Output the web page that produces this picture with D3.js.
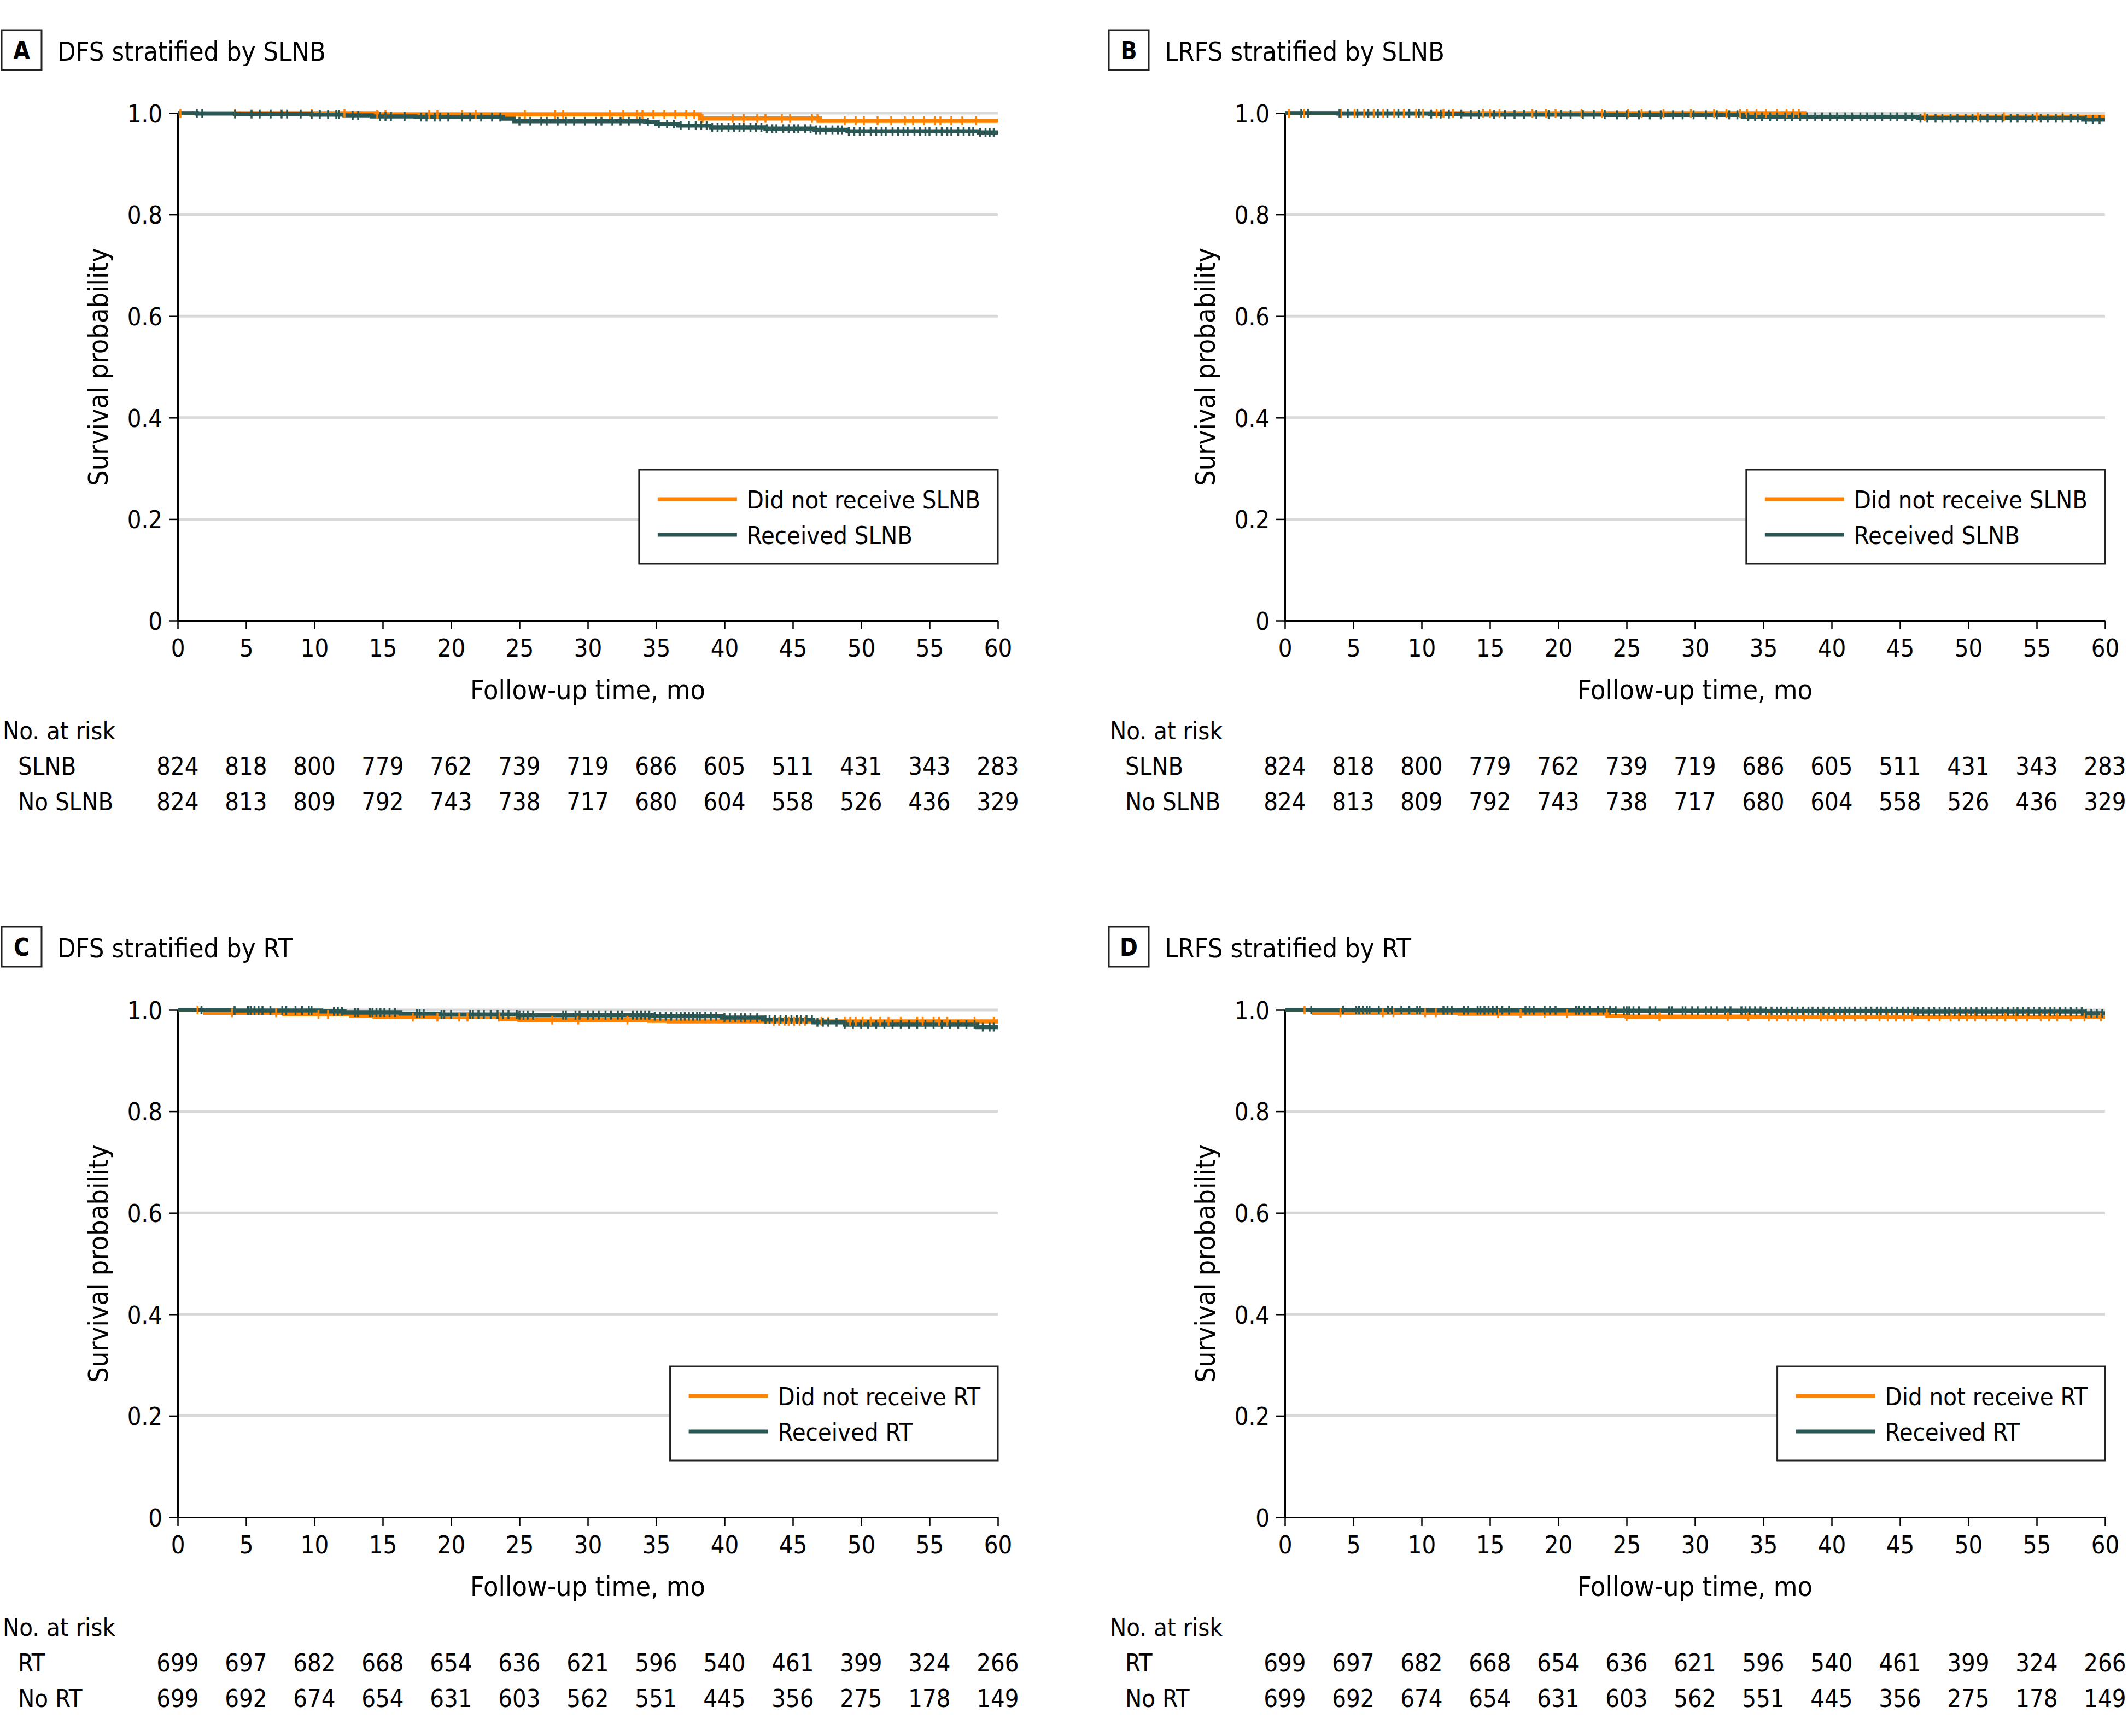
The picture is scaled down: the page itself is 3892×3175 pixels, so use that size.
<!DOCTYPE html>
<html>
<head>
<meta charset="utf-8">
<script src="https://cdn.jsdelivr.net/npm/d3@7"></script>
<style>
html,body{margin:0;padding:0;background:#fff;}
svg text{font-family:"DejaVu Sans Condensed","DejaVu Sans",sans-serif;font-stretch:condensed;fill:#000;}
</style>
</head>
<body>
<svg id="chart" width="3892" height="3175"></svg>
<script>
// ---------- tick labels ----------
const timeTicks = [0,5,10,15,20,25,30,35,40,45,50,55,60];
const probTicks = [0,0.2,0.4,0.6,0.8,1.0];
const probTickLabels = ["0","0.2","0.4","0.6","0.8","1.0"];

// ---------- numbers at risk ----------
const slnbRisk   = [824,818,800,779,762,739,719,686,605,511,431,343,283];
const noSlnbRisk = [824,813,809,792,743,738,717,680,604,558,526,436,329];
const rtRisk     = [699,697,682,668,654,636,621,596,540,461,399,324,266];
const noRtRisk   = [699,692,674,654,631,603,562,551,445,356,275,178,149];

// ---------- Panel A: DFS by SLNB ----------
const aNoTime = [0, 14.6, 38.2, 47.0, 60];
const aNoSurv = [1.0, 0.9975, 0.9895, 0.985, 0.985];
const aNoCens = [0.2,4.2,9.8,12.2,14.6,15.2,18.4,19.0,20.8,21.8,25.4,27.6,28.2,31.6,32.6,33.6,34.0,34.8,35.6,36.4,37.2,37.8,38.4,40.6,41.4,42.4,43.0,44.2,44.8,46.4,46.8,48.8,49.6,50.2,51.2,52.2,53.2,53.8,54.6,55.4,55.8,56.6,57.4,58.4];
const aYesTime = [0, 1.4, 4.2, 9.8, 12.2, 14.2, 17.4, 23.8, 24.6, 34.2, 35.0, 36.6, 39.0, 43.0, 46.6, 49.0, 58.6, 60];
const aYesSurv = [1.0, 0.9993, 0.9982, 0.9971, 0.9957, 0.9935, 0.9921, 0.9892, 0.9842, 0.9828, 0.9785, 0.9756, 0.972, 0.9695, 0.967, 0.9641, 0.962, 0.962];
const aYesCens = [1.4,1.8,4.2,5.4,6.0,6.8,7.6,8.0,9.0,9.8,10.4,11.0,11.6,11.8,12.8,13.2,14.8,15.2,15.6,16.6,17.8,18.2,18.8,19.2,19.8,20.8,21.4,22.2,23.0,23.6,25.0,25.8,26.6,27.0,27.8,28.4,29.0,29.8,30.6,31.0,31.8,32.4,33.0,33.8,34.4,35.2,35.8,36.3,36.8,37.4,37.9,38.3,38.7,39.1,39.5,39.8,40.3,40.7,41.1,41.4,41.9,42.3,42.7,43.1,43.5,43.8,44.3,44.7,45.1,45.4,45.9,46.3,46.7,47.0,47.4,47.9,48.3,48.6,49.1,49.5,49.9,50.2,50.7,51.1,51.5,51.8,52.3,52.7,53.1,53.4,53.9,54.3,54.7,55.0,55.5,55.9,56.3,56.6,57.1,57.5,57.9,58.2,58.7,59.1,59.4,59.7];

// ---------- Panel B: LRFS by SLNB ----------
const bNoTime = [0, 38.0, 60];
const bNoSurv = [1.0, 0.993, 0.993];
const bNoCens = [0.3,1.4,4.1,5.1,5.8,6.5,7.2,8.0,8.7,9.6,10.1,11.1,11.6,12.3,14.5,15.0,15.7,18.1,19.1,19.8,21.7,23.2,25.1,26.1,27.7,29.7,31.4,32.3,33.3,33.8,34.5,35.2,36.0,36.7,37.2,37.6,46.8,50.7,52.6,55.0,56.9];
const bYesTime = [0, 3.9, 10.6, 13.0, 23.6, 33.5, 46.3, 58.4, 60];
const bYesSurv = [1.0, 0.9992, 0.9981, 0.997, 0.9964, 0.9928, 0.9899, 0.9874, 0.9874];
const bYesCens = [1.2,1.7,4.0,4.6,5.3,6.1,6.8,7.5,8.3,9.1,9.8,10.7,11.4,12.0,12.9,13.6,14.2,15.3,16.1,16.8,17.5,18.4,19.3,20.2,20.9,21.8,22.6,23.4,24.3,25.0,25.9,26.7,27.5,28.4,29.1,29.9,30.8,31.6,32.5,33.1,33.9,34.4,34.9,35.5,36.0,36.6,37.1,37.7,38.2,38.8,39.3,39.9,40.4,41.0,41.5,42.1,42.6,43.2,43.7,44.3,44.8,45.4,45.9,46.5,47.0,47.6,48.1,48.7,49.2,49.8,50.3,50.9,51.4,52.0,52.5,53.1,53.6,54.2,54.7,55.3,55.8,56.4,56.9,57.5,58.0,58.6,59.1,59.6];

// ---------- Panel C: DFS by RT ----------
const cNoTime = [0, 2.0, 7.8, 12.7, 14.4, 23.6, 25.0, 34.5, 35.9, 60];
const cNoSurv = [1.0, 0.9943, 0.9914, 0.9885, 0.9856, 0.9824, 0.9799, 0.9785, 0.9775, 0.9775];
const cNoCens = [1.45,3.97,7.2,10.3,11.0,17.2,19.0,20.6,21.2,23.5,27.4,29.3,32.9,43.6,44.0,44.4,44.7,45.1,45.5,45.9,47.1,47.6,48.8,49.2,49.6,50.1,50.7,51.4,52.0,52.9,54.1,54.5,55.3,55.7,56.3,58.3,59.7];
const cYesTime = [0, 4.1, 10.5, 12.2, 16.3, 19.2, 24.9, 34.7, 39.8, 42.8, 46.5, 48.8, 58.5, 60];
const cYesSurv = [1.0, 0.9989, 0.9971, 0.9946, 0.9928, 0.991, 0.9895, 0.9875, 0.985, 0.981, 0.9755, 0.971, 0.966, 0.966];
const cYesCens = [1.74,4.16,5.13,5.33,5.62,5.91,6.2,6.78,7.65,7.94,8.62,9.11,9.59,9.79,11.43,11.72,12.02,12.98,13.18,14.05,14.25,14.54,14.83,15.12,15.5,15.9,17.5,17.7,18.0,19.3,19.5,20.0,21.4,21.6,22.0,22.4,22.9,23.4,23.8,24.2,24.8,25.0,25.3,25.6,26.0,28.2,28.4,29.1,29.4,30.0,30.4,30.8,31.3,31.7,32.2,32.5,33.3,33.6,33.9,34.2,34.5,34.9,35.3,35.7,36.1,36.5,36.8,37.1,37.4,37.7,38.0,38.2,38.6,39.0,39.4,40.0,40.4,40.8,41.2,41.5,41.9,42.4,43.0,43.3,43.7,44.1,44.5,44.9,45.3,45.6,46.0,46.4,46.8,47.2,47.6,48.2,48.8,49.4,50.0,50.5,51.1,51.7,52.3,52.9,53.5,54.1,54.7,55.3,55.9,56.5,57.1,57.7,58.3,58.9,59.4,59.7];

// ---------- Panel D: LRFS by RT ----------
const dNoTime = [0, 2.1, 12.8, 23.6, 25.0, 34.6, 60];
const dNoSurv = [1.0, 0.9943, 0.9925, 0.9885, 0.9868, 0.9858, 0.9858];
const dNoCens = [1.44,4.06,7.16,7.94,10.26,11.04,15.6,17.24,18.99,20.64,23.55,25.0,27.4,32.4,33.9,35.4,36.0,36.8,37.4,38.0,39.2,39.7,40.3,40.9,41.7,42.5,43.5,44.1,44.7,45.3,45.9,47.1,47.9,48.7,49.3,49.9,50.5,51.3,52.1,52.7,53.5,54.3,55.3,55.9,56.5,57.5,58.5,59.7];
const dYesTime = [0, 10.4, 24.0, 35.0, 46.1, 58.4, 60];
const dYesSurv = [1.0, 0.9993, 0.9986, 0.998, 0.9968, 0.9935, 0.9935];
const dYesCens = [1.93,4.25,5.22,5.42,5.71,6.0,6.19,6.87,7.55,7.84,8.52,9.1,9.68,9.88,11.6,11.9,12.2,13.1,13.4,14.1,14.3,14.6,14.9,15.2,15.5,15.9,16.4,17.6,17.9,18.2,19.0,19.4,19.8,21.3,21.5,21.9,22.3,22.9,23.3,23.8,24.2,24.8,25.0,25.2,25.5,25.9,26.7,27.1,28.1,28.3,29.1,29.3,29.8,30.2,30.8,31.2,31.6,32.2,32.6,33.4,33.7,34.0,34.4,34.8,35.2,35.6,36.0,36.3,36.7,37.1,37.5,37.9,38.3,38.6,39.0,39.4,39.8,40.2,40.6,41.0,41.3,41.7,42.1,42.5,42.9,43.3,43.6,44.0,44.4,44.8,45.2,45.6,46.0,46.3,46.7,47.1,47.5,47.9,48.3,48.6,49.0,49.4,49.8,50.2,50.6,51.0,51.3,51.7,52.1,52.5,52.9,53.3,53.6,54.0,54.4,54.8,55.2,55.6,56.0,56.3,56.7,57.1,57.5,57.9,58.3,58.6,59.0,59.4,59.8];

// ---------- styling ----------
const ORANGE = "#ff8200";
const TEAL = "#2a5654";
const GRID = "#d9d9d9";

const panels = [
  {letter:"A", title:"DFS stratified by SLNB", ox:0, oy:0,
   series:[{name:"Did not receive SLNB", color:ORANGE, t:aNoTime, s:aNoSurv, c:aNoCens},
           {name:"Received SLNB", color:TEAL, t:aYesTime, s:aYesSurv, c:aYesCens}],
   riskNames:["SLNB","No SLNB"], risk:[slnbRisk,noSlnbRisk]},
  {letter:"B", title:"LRFS stratified by SLNB", ox:2025, oy:0,
   series:[{name:"Did not receive SLNB", color:ORANGE, t:bNoTime, s:bNoSurv, c:bNoCens},
           {name:"Received SLNB", color:TEAL, t:bYesTime, s:bYesSurv, c:bYesCens}],
   riskNames:["SLNB","No SLNB"], risk:[slnbRisk,noSlnbRisk]},
  {letter:"C", title:"DFS stratified by RT", ox:0, oy:1640,
   series:[{name:"Did not receive RT", color:ORANGE, t:cNoTime, s:cNoSurv, c:cNoCens},
           {name:"Received RT", color:TEAL, t:cYesTime, s:cYesSurv, c:cYesCens}],
   riskNames:["RT","No RT"], risk:[rtRisk,noRtRisk]},
  {letter:"D", title:"LRFS stratified by RT", ox:2025, oy:1640,
   series:[{name:"Did not receive RT", color:ORANGE, t:dNoTime, s:dNoSurv, c:dNoCens},
           {name:"Received RT", color:TEAL, t:dYesTime, s:dYesSurv, c:dYesCens}],
   riskNames:["RT","No RT"], risk:[rtRisk,noRtRisk]}
];

const svg = d3.select("#chart");
svg.append("rect").attr("width",3892).attr("height",3175).attr("fill","#fff");

const FS = 45;
const LFS = 50;

panels.forEach(p => {
  const g = svg.append("g").attr("transform", `translate(${p.ox},${p.oy})`);
  const x = d3.scaleLinear().domain([0,60]).range([325,1825]);
  const y = d3.scaleLinear().domain([0,1]).range([1135,207]);

  // title
  g.append("rect").attr("x",3).attr("y",55).attr("width",73).attr("height",73)
    .attr("fill","none").attr("stroke","#222").attr("stroke-width",3);
  g.append("text").attr("x",39.5).attr("y",108).attr("text-anchor","middle")
    .attr("font-weight","bold").attr("font-size",44).text(p.letter);
  g.append("text").attr("x",105).attr("y",111).attr("font-size",48.5).text(p.title);

  // grid
  g.append("g").selectAll("line").data(probTicks.filter(d=>d>0)).join("line")
    .attr("x1",x(0)).attr("x2",x(60)).attr("y1",d=>y(d)).attr("y2",d=>y(d))
    .attr("stroke",GRID).attr("stroke-width",5);

  // axes
  const xAxis = d3.axisBottom(x).tickValues(timeTicks).tickFormat(d3.format("d"))
    .tickSize(16).tickSizeOuter(0).tickPadding(18);
  const yAxis = d3.axisLeft(y).tickValues(probTicks).tickFormat((d,i)=>probTickLabels[i])
    .tickSize(16).tickSizeOuter(0).tickPadding(12);
  const gx = g.append("g").attr("transform",`translate(0,${y(0)})`).call(xAxis);
  const gy = g.append("g").attr("transform",`translate(${x(0)},0)`).call(yAxis);
  [gx,gy].forEach(a=>{
    a.select(".domain").attr("stroke","#000").attr("stroke-width",3);
    a.selectAll(".tick line").attr("stroke","#000").attr("stroke-width",2.5);
    a.selectAll(".tick text").attr("font-size",FS)
      .style("font-family",'"DejaVu Sans Condensed","DejaVu Sans",sans-serif').attr("fill","#000");
  });
  gy.selectAll(".tick text").attr("dy","0.36em");

  // axis labels
  g.append("text").attr("x",(x(0)+x(60))/2).attr("y",1279).attr("text-anchor","middle")
    .attr("font-size",LFS).text("Follow-up time, mo");
  g.append("text").attr("transform",`translate(197,${(y(0)+y(1))/2}) rotate(-90)`)
    .attr("text-anchor","middle").attr("font-size",LFS).text("Survival probability");

  // curves
  const line = d3.line().x(d=>x(d[0])).y(d=>y(d[1])).curve(d3.curveStepAfter);
  const stepAt = (s, t) => { let v = s.s[0]; for (let i=0;i<s.t.length;i++){ if (s.t[i] <= t) v = s.s[i]; } return v; };
  const order = [0,1];
  order.forEach(i => {
    const s = p.series[i];
    g.append("path").datum(s.t.map((t,k)=>[t,s.s[k]]))
      .attr("d",line).attr("fill","none").attr("stroke",s.color).attr("stroke-width",7.5);
  });
  order.forEach(i => {
    const s = p.series[i];
    g.append("g").selectAll("line").data(s.c).join("line")
      .attr("x1",d=>x(d)).attr("x2",d=>x(d))
      .attr("y1",d=>y(stepAt(s,d))-8).attr("y2",d=>y(stepAt(s,d))+8)
      .attr("stroke",s.color).attr("stroke-width",3.5);
  });

  // legend
  const lg = g.append("g");
  const texts = p.series.map((s,i)=> lg.append("text").attr("x",0).attr("y",0)
    .attr("font-size",FS).text(s.name));
  const tw = d3.max(texts, t=>t.node().getComputedTextLength());
  const boxW = 34 + 145 + 18 + tw + 32;
  const bx = x(60) - boxW, byTop = 859;
  lg.insert("rect","text").attr("x",bx).attr("y",byTop).attr("width",boxW).attr("height",172)
    .attr("fill","#fff").attr("stroke","#222").attr("stroke-width",3);
  p.series.forEach((s,i)=>{
    const cy = byTop + 54 + i*65;
    lg.append("line").attr("x1",bx+34).attr("x2",bx+179).attr("y1",cy).attr("y2",cy)
      .attr("stroke",s.color).attr("stroke-width",7);
    texts[i].attr("x",bx+197).attr("y",cy+17);
  });

  // numbers at risk
  g.append("text").attr("x",5).attr("y",1352).attr("font-size",FS).text("No. at risk");
  p.riskNames.forEach((nm,i)=>{
    const by = 1417 + i*65;
    g.append("text").attr("x",33).attr("y",by).attr("font-size",FS).text(nm);
    g.append("g").selectAll("text").data(p.risk[i]).join("text")
      .attr("x",(d,k)=>x(timeTicks[k])).attr("y",by).attr("text-anchor","middle")
      .attr("font-size",FS).text(d=>d);
  });
});
</script>
</body>
</html>
